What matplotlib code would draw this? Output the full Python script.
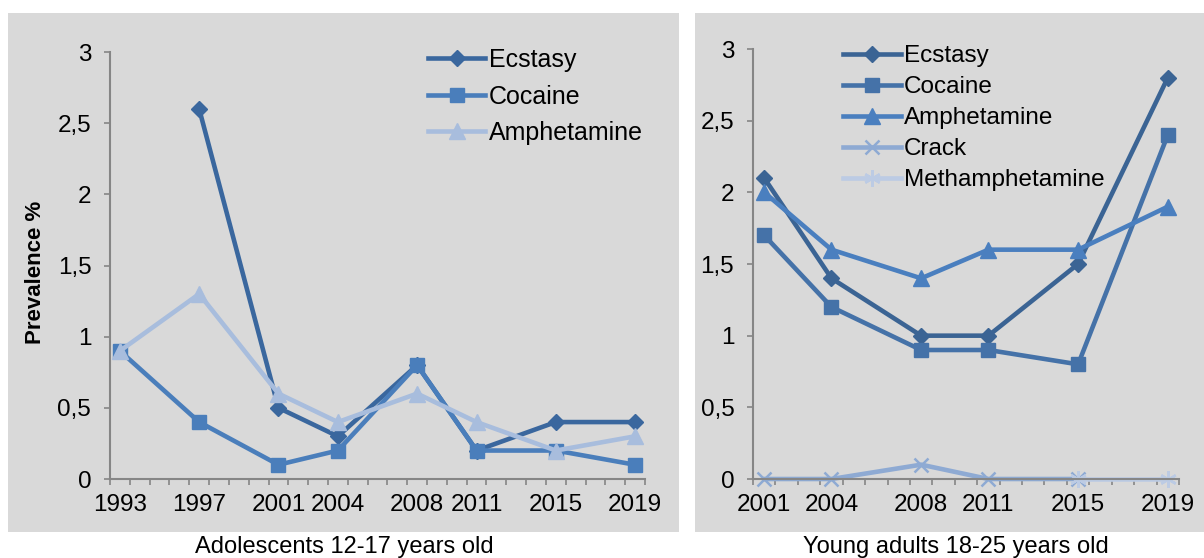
import numpy as np
import matplotlib
matplotlib.use("Agg")
import matplotlib.pyplot as plt
from matplotlib.patches import Rectangle
from matplotlib.ticker import FixedLocator, FuncFormatter

plt.rcParams['font.family'] = ['Liberation Sans', 'DejaVu Sans']

# adolescents 12-17
years_teen = [1993, 1997, 2001, 2004, 2008, 2011, 2015, 2019]
ecstasy_teen = [np.nan, 2.6, 0.5, 0.3, 0.8, 0.2, 0.4, 0.4]
cocaine_teen = [0.9, 0.4, 0.1, 0.2, 0.8, 0.2, 0.2, 0.1]
amphet_teen = [0.9, 1.3, 0.6, 0.4, 0.6, 0.4, 0.2, 0.3]

# young adults 18-25
years_young = [2001, 2004, 2008, 2011, 2015, 2019]
ecstasy_young = [2.1, 1.4, 1.0, 1.0, 1.5, 2.8]
cocaine_young = [1.7, 1.2, 0.9, 0.9, 0.8, 2.4]
amphet_young = [2.0, 1.6, 1.4, 1.6, 1.6, 1.9]
crack_young = [0.0, 0.0, 0.1, 0.0, 0.0, np.nan]
meth_young = [np.nan, np.nan, np.nan, np.nan, 0.0, 0.0]

yticks = [0, 0.5, 1, 1.5, 2, 2.5, 3]

W, H = 1204, 558
fig = plt.figure(figsize=(W / 100, H / 100), dpi=100)
fig.patch.set_facecolor('white')

grey = '#d9d9d9'
axis_col = '#868686'

# grey chart areas, kept behind the axes
fig.patches.append(Rectangle((8 / W, 1 - 532 / H), 671 / W, 519 / H,
                             transform=fig.transFigure, facecolor=grey,
                             edgecolor='none', zorder=-5))
fig.patches.append(Rectangle((695 / W, 1 - 532 / H), 509 / W, 519 / H,
                             transform=fig.transFigure, facecolor=grey,
                             edgecolor='none', zorder=-5))

ax1 = fig.add_axes([110 / W, 1 - 479 / H, 535 / W, 427 / H])
ax2 = fig.add_axes([753 / W, 1 - 479 / H, 426 / W, 430 / H])


def comma(v, pos):
    s = ('%g' % v)
    return s.replace('.', ',')


def style_axis(ax, first, last, years):
    ax.set_facecolor('none')
    ax.set_xlim(first - 0.5, last + 0.5)
    ax.set_ylim(0, 3)
    for side in ['top', 'right']:
        ax.spines[side].set_visible(False)
    for side in ['left', 'bottom']:
        ax.spines[side].set_color(axis_col)
        ax.spines[side].set_linewidth(1.5)
    ax.yaxis.set_major_locator(FixedLocator(yticks))
    ax.yaxis.set_major_formatter(FuncFormatter(comma))
    ax.tick_params(axis='y', direction='out', length=4.5, width=1.2,
                   color=axis_col, labelsize=17.5, pad=9)
    ax.set_xticks(years)
    ax.set_xticklabels([str(y) for y in years])
    ax.set_xticks(np.arange(first - 0.5, last + 1.0, 1.0), minor=True)
    ax.tick_params(axis='x', which='major', length=0, labelsize=17.5, pad=11)
    ax.tick_params(axis='x', which='minor', direction='out', length=4.5,
                   width=1.2, color=axis_col)


style_axis(ax1, 1993, 2019, years_teen)
style_axis(ax2, 2001, 2019, years_young)

lw = 3.3
ax1.plot(years_teen, ecstasy_teen, color='#3a679e', lw=lw, marker='D', ms=8.5,
         label='Ecstasy', clip_on=False)
ax1.plot(years_teen, cocaine_teen, color='#4a7ebb', lw=lw, marker='s', ms=10.5,
         label='Cocaine', clip_on=False)
ax1.plot(years_teen, amphet_teen, color='#a8bddd', lw=lw, marker='^', ms=12,
         label='Amphetamine', clip_on=False)

ax2.plot(years_young, ecstasy_young, color='#3b6494', lw=lw, marker='D', ms=8.5,
         label='Ecstasy', clip_on=False)
ax2.plot(years_young, cocaine_young, color='#4572a8', lw=lw, marker='s', ms=10.5,
         label='Cocaine', clip_on=False)
ax2.plot(years_young, amphet_young, color='#4a7fbf', lw=lw, marker='^', ms=12,
         label='Amphetamine', clip_on=False)
ax2.plot(years_young, crack_young, color='#8eaad3', lw=lw, marker='x', ms=10,
         mew=1.8, label='Crack', clip_on=False)
ax2.plot(years_young, meth_young, color='#bccbe4', lw=lw, marker=(6, 2, 0), ms=12,
         mew=1.8, label='Methamphetamine', clip_on=False)

ax1.set_ylabel('Prevalence %', fontsize=16, fontweight='bold')
ax1.yaxis.set_label_coords(-64 / 535, 0.485)

ax1.legend(loc='upper left', bbox_to_anchor=(0.594, 1.009), frameon=False,
           fontsize=18, handlelength=2.3, handletextpad=0.15, borderpad=0,
           borderaxespad=0, labelspacing=0.5)
ax2.legend(loc='upper left', bbox_to_anchor=(0.211, 1.009), frameon=False,
           fontsize=17.5, handlelength=2.4, handletextpad=0.12, borderpad=0,
           borderaxespad=0, labelspacing=0.37)

fig.text(344 / W, 1 - 547 / H, 'Adolescents 12-17 years old', fontsize=17,
         ha='center', va='center')
fig.text(956 / W, 1 - 547 / H, 'Young adults 18-25 years old', fontsize=17,
         ha='center', va='center')

fig.savefig('out.png', dpi=100, facecolor='white')
